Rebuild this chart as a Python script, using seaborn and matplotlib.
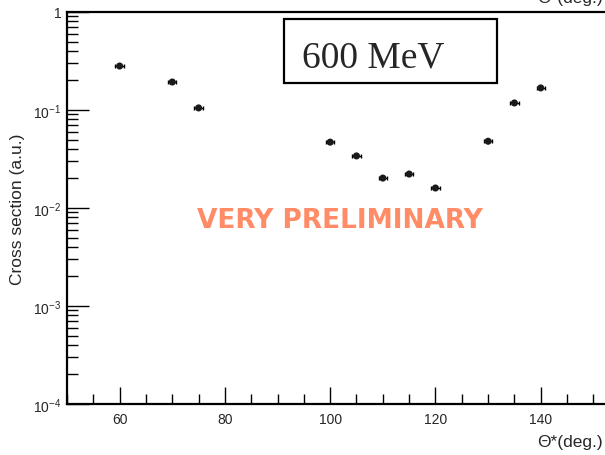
import matplotlib
matplotlib.use("Agg")
import matplotlib.pyplot as plt
from matplotlib.ticker import MultipleLocator, LogLocator, NullFormatter
from matplotlib.patches import Rectangle
import seaborn as sns
import pandas as pd

# angle (deg.) and cross section (a.u.)
theta = [60, 70, 75, 100, 105, 110, 115, 120, 130, 135, 140]
xsec = [0.281, 0.193, 0.105, 0.047, 0.034, 0.0202, 0.0222, 0.016, 0.048, 0.118, 0.168]
theta_err = [0.8] * len(theta)

ytick_vals = [1e-4, 1e-3, 1e-2, 1e-1, 1]
ytick_labels = [r"10$^{-4}$", r"10$^{-3}$", r"10$^{-2}$", r"10$^{-1}$", "1"]
xtick_vals = [60, 80, 100, 120, 140]

df = pd.DataFrame({"theta": theta, "xsec": xsec})

sns.set_style("white")
plt.rcParams['font.family'] = ['Liberation Sans', 'DejaVu Sans']
plt.rcParams['mathtext.fontset'] = 'custom'
plt.rcParams['mathtext.rm'] = 'Liberation Sans'
plt.rcParams['mathtext.it'] = 'Liberation Sans:italic'

fig = plt.figure(figsize=(6.05, 4.56), dpi=100)
W, H = 605, 456
# axes runs past the right edge like the cropped original
ax = fig.add_axes([67 / W, (H - 405) / H, 579 / W, (405 - 13) / H])

ax.errorbar(df.theta, df.xsec, xerr=theta_err, fmt='none', ecolor='k',
            elinewidth=1.0, capsize=1.5, capthick=1.0)
sns.scatterplot(data=df, x="theta", y="xsec", ax=ax, color='#1a1a1a',
                s=26, edgecolor='none', zorder=3)

ax.set_yscale('log')
ax.set_xlim(50, 160)
ax.set_ylim(1e-4, 1)

ax.set_xticks(xtick_vals)
ax.xaxis.set_minor_locator(MultipleLocator(5))
ax.set_yticks(ytick_vals)
ax.set_yticklabels(ytick_labels)
ax.yaxis.set_minor_locator(LogLocator(base=10, subs=range(2, 10)))
ax.yaxis.set_minor_formatter(NullFormatter())

ax.tick_params(axis='both', which='both', direction='in', color='k',
               labelsize=10, width=1.0, bottom=True, left=True,
               top=False, right=False)
ax.tick_params(axis='y', which='major', length=16, pad=4)
ax.tick_params(axis='y', which='minor', length=8)
ax.tick_params(axis='x', which='major', length=12, pad=6)
ax.tick_params(axis='x', which='minor', length=7)

for s in ['left', 'bottom', 'top']:
    ax.spines[s].set_linewidth(1.6)
    ax.spines[s].set_color('k')
ax.spines['right'].set_visible(False)

ax.set_xlabel("")
ax.set_ylabel("Cross section (a.u.)", fontsize=12.5)
ax.yaxis.set_label_coords(-42 / 579, 0.5)
fig.text(603 / W, 1 - 447 / H, "Θ*(deg.)", fontsize=12.5, ha='right',
         va='baseline')
# clipped axis title from the upper panel
fig.text(603 / W, 1 - 3 / H, "Θ*(deg.)", fontsize=12.5, ha='right',
         va='baseline')

# energy label box (left aligned text like the original pave)
fig.patches.append(Rectangle((284 / W, 1 - 84 / H), 213 / W, 64 / H,
                             transform=fig.transFigure, fc='white',
                             ec='k', lw=1.6, zorder=5))
fig.text(302 / W, 1 - 67 / H, "600 MeV",
         family=['Liberation Serif', 'DejaVu Serif'], fontsize=27,
         ha='left', va='baseline', zorder=6)

fig.text(340 / W, 1 - 221 / H, "VERY PRELIMINARY",
         family='DejaVu Sans', fontweight='bold', fontsize=19,
         color='#ff8c66', ha='center', va='center')

fig.savefig("out.png", dpi=100)
